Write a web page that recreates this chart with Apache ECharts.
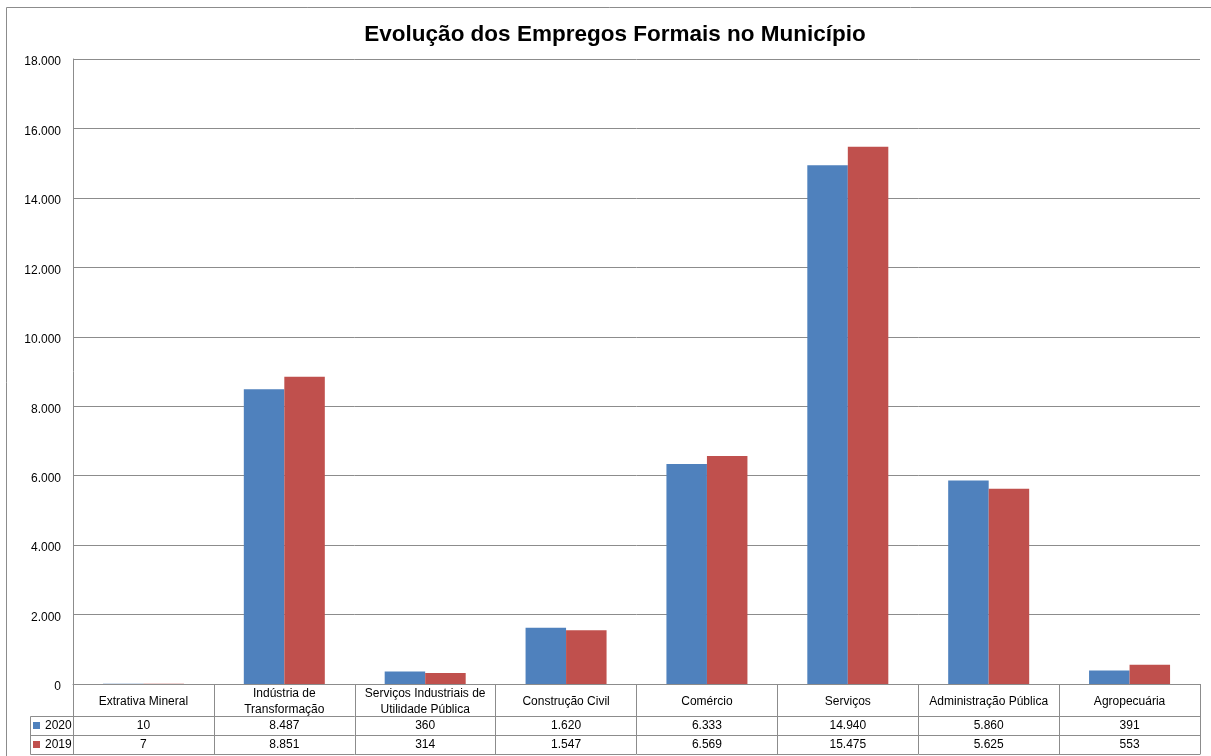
<!DOCTYPE html>
<html>
<head>
<meta charset="utf-8">
<title>Evolução dos Empregos Formais no Município</title>
<script src="https://cdn.jsdelivr.net/npm/echarts@6/dist/echarts.min.js"></script>
<style>
    html, body { margin: 0; padding: 0; background: #fff; }
    #main { width: 1211px; height: 756px; }
</style>
</head>
<body>
<div id="main"></div>
<script>
// dados
var categorias = ['Extrativa Mineral', 'Indústria de\nTransformação', 'Serviços Industriais de\nUtilidade Pública',
    'Construção Civil', 'Comércio', 'Serviços', 'Administração Pública', 'Agropecuária'];
var anos = ['2020', '2019'];
var valores2020 = [10, 8487, 360, 1620, 6333, 14940, 5860, 391];
var valores2019 = [7, 8851, 314, 1547, 6569, 15475, 5625, 553];
var cores = ['#4F81BD', '#C0504D'];

var fonte = '"Liberation Sans", Arial, sans-serif';
var corLinha = '#8c8c8c';

// formata 18000 -> 18.000
function milhar(v) {
    return String(v).replace(/\B(?=(\d{3})+(?!\d))/g, '.');
}

var myChart = echarts.init(document.getElementById('main'));

var option = {
    backgroundColor: '#fff',
    textStyle: { fontFamily: fonte },
    title: {
        text: 'Evolução dos Empregos Formais no Município',
        left: 610,
        textAlign: 'center',
        top: 18,
        textStyle: { fontSize: 22.5, fontWeight: 'bold', color: '#000', fontFamily: fonte }
    },
    legend: {
        data: anos,
        orient: 'vertical',
        left: 33,
        top: 718.5,
        padding: 0,
        itemGap: 5,
        itemWidth: 7,
        itemHeight: 7,
        icon: 'rect',
        textStyle: { fontSize: 12, color: '#000', lineHeight: 14, fontFamily: fonte }
    },
    grid: { left: 73, right: 11, top: 59, bottom: 72, containLabel: false },
    xAxis: [{
        // linha de categorias da tabela
        type: 'category',
        data: categorias,
        position: 'bottom',
        axisLine: { show: true, lineStyle: { color: corLinha } },
        axisTick: { show: true, length: 70, interval: 0, alignWithLabel: false, lineStyle: { color: corLinha } },
        axisLabel: {
            interval: 0, margin: 17.5, fontSize: 12, color: '#000', verticalAlign: 'middle',
            lineHeight: 16, fontFamily: fonte
        }
    }, {
        // linha 2020
        type: 'category',
        data: categorias,
        position: 'bottom',
        offset: 32,
        axisLine: { show: true, lineStyle: { color: corLinha } },
        axisTick: { show: false },
        axisLabel: {
            interval: 0, margin: 10, fontSize: 12, color: '#000', verticalAlign: 'middle', fontFamily: fonte,
            formatter: function (v, i) { return milhar(valores2020[i]); }
        }
    }, {
        // linha 2019
        type: 'category',
        data: categorias,
        position: 'bottom',
        offset: 51,
        axisLine: { show: true, lineStyle: { color: corLinha } },
        axisTick: { show: false },
        axisLabel: {
            interval: 0, margin: 10, fontSize: 12, color: '#000', verticalAlign: 'middle', fontFamily: fonte,
            formatter: function (v, i) { return milhar(valores2019[i]); }
        }
    }, {
        // borda de baixo da tabela
        type: 'category',
        data: categorias,
        position: 'bottom',
        offset: 70,
        axisLine: { show: true, lineStyle: { color: corLinha } },
        axisTick: { show: false },
        axisLabel: { show: false }
    }],
    yAxis: {
        type: 'value',
        min: 0,
        max: 18000,
        interval: 2000,
        axisLine: { show: true, lineStyle: { color: corLinha } },
        axisTick: { show: false },
        axisLabel: {
            margin: 12, fontSize: 12, color: '#000', fontFamily: fonte, verticalAlign: 'middle',
            formatter: function (v) { return '{n|' + milhar(v) + '}'; },
            rich: {
                n: { fontSize: 12, color: '#000', fontFamily: fonte, padding: [6, 0, 0, 0] }
            }
        },
        splitLine: { show: true, lineStyle: { color: corLinha, width: 1 } }
    },
    series: [{
        name: anos[0],
        type: 'bar',
        xAxisIndex: 0,
        data: valores2020,
        barGap: '0%',
        barCategoryGap: '42.5%',
        itemStyle: { color: cores[0] }
    }, {
        name: anos[1],
        type: 'bar',
        xAxisIndex: 0,
        data: valores2019,
        barGap: '0%',
        barCategoryGap: '42.5%',
        itemStyle: { color: cores[1] }
    }],
    graphic: [
        // borda externa
        { type: 'rect', z: -1, shape: { x: 6.5, y: 7.5, width: 1220, height: 760 },
            style: { fill: 'none', stroke: corLinha, lineWidth: 1 } },
        // coluna da legenda na tabela
        { type: 'line', shape: { x1: 30.5, y1: 716.5, x2: 73, y2: 716.5 }, style: { stroke: corLinha } },
        { type: 'line', shape: { x1: 30.5, y1: 735.5, x2: 73, y2: 735.5 }, style: { stroke: corLinha } },
        { type: 'line', shape: { x1: 30.5, y1: 754.5, x2: 73, y2: 754.5 }, style: { stroke: corLinha } },
        { type: 'line', shape: { x1: 30.5, y1: 716.5, x2: 30.5, y2: 754.5 }, style: { stroke: corLinha } }
    ]
};

myChart.setOption(option);
</script>
</body>
</html>
